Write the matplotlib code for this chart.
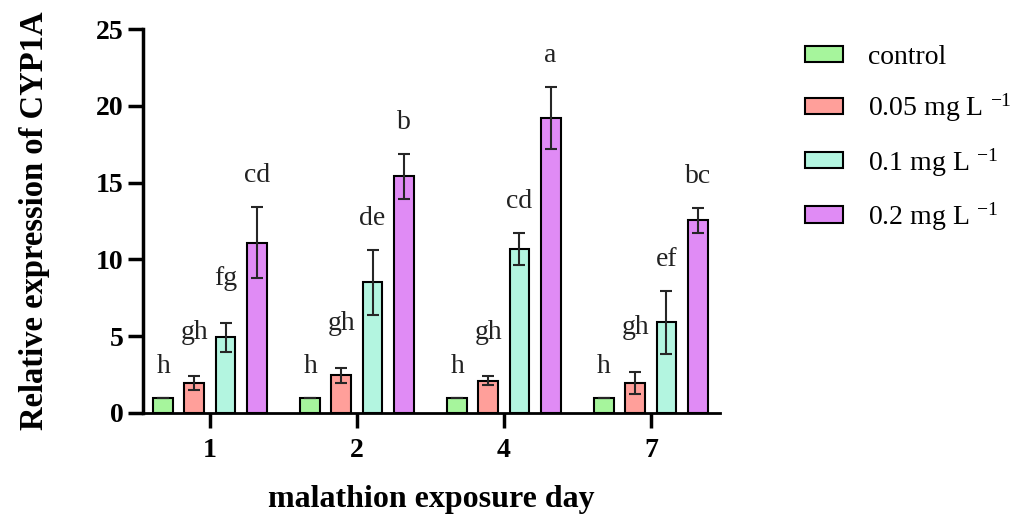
import numpy as np
import matplotlib
matplotlib.use("Agg")
import matplotlib.pyplot as plt

plt.rcParams['font.family'] = ['Liberation Serif', 'DejaVu Serif']
plt.rcParams['mathtext.fontset'] = 'custom'
plt.rcParams['mathtext.rm'] = 'Liberation Serif'
plt.rcParams['mathtext.it'] = 'Liberation Serif:italic'
plt.rcParams['mathtext.bf'] = 'Liberation Serif:bold'

# data
days = ["1", "2", "4", "7"]
groups = ["control", "0.05 mg L $^{-1}$", "0.1 mg L $^{-1}$", "0.2 mg L $^{-1}$"]
means = [
    [1.0, 1.0, 1.0, 1.0],        # control
    [1.95, 2.45, 2.1, 1.97],     # 0.05
    [4.93, 8.5, 10.7, 5.9],      # 0.1
    [11.1, 15.4, 19.2, 12.55],   # 0.2
]
errors = [
    [0.0, 0.0, 0.0, 0.0],
    [0.45, 0.5, 0.3, 0.72],
    [0.93, 2.1, 1.05, 2.05],
    [2.3, 1.45, 2.0, 0.8],
]
letters = [
    ["h", "h", "h", "h"],
    ["gh", "gh", "gh", "gh"],
    ["fg", "de", "cd", "ef"],
    ["cd", "b", "a", "bc"],
]
colors = ["#A6F59C", "#FF9F9A", "#B3F5E0", "#E08BF5"]

fig = plt.figure(figsize=(10.21, 5.14), dpi=100)
ax = fig.add_axes([0.140, 0.1965, 0.565, 0.747])

x = np.arange(len(days))
step = 0.212
width = 0.135
for i, g in enumerate(groups):
    pos = x + (i - 1.5) * step
    ax.bar(pos, means[i], width, color=colors[i], edgecolor="black",
           linewidth=1.5, label=g, zorder=2)
    ax.errorbar(pos, means[i], yerr=errors[i], fmt="none", ecolor="#262626",
                elinewidth=1.5, capsize=4, capthick=1.5, zorder=3)
    for j in range(len(days)):
        top = means[i][j] + errors[i][j]
        # letters with a descender sit a little higher
        off = 27 if "g" in letters[i][j] else 18
        ax.annotate(letters[i][j], (pos[j], top), xytext=(0, off),
                    textcoords="offset points", ha="center", va="baseline",
                    fontsize=20, color="#222222")

ax.set_xlim(-0.456, 3.469)
ax.set_ylim(0, 25)
ax.set_yticks([0, 5, 10, 15, 20, 25])
ax.set_xticks(x)
ax.set_xticklabels(days)
for lab in ax.get_xticklabels() + ax.get_yticklabels():
    lab.set_fontweight("bold")
    lab.set_fontsize(20)

ax.spines["top"].set_visible(False)
ax.spines["right"].set_visible(False)
ax.spines["left"].set_linewidth(2.5)
ax.spines["bottom"].set_linewidth(2.0)
ax.tick_params(axis="y", length=11, width=2.5, direction="out", pad=3)
ax.tick_params(axis="x", length=11, width=2.5, direction="out", pad=7)

ax.set_ylabel("Relative expression of CYP1A", fontsize=23.5, fontweight="bold", labelpad=33)
ax.set_xlabel("malathion exposure day", fontsize=23, fontweight="bold", labelpad=16)

ax.legend(loc="upper left", bbox_to_anchor=(0.788, 0.912), bbox_transform=fig.transFigure,
          frameon=False, fontsize=20, handlelength=1.38, handleheight=0.52,
          labelspacing=0.78, handletextpad=0.9, borderpad=0, borderaxespad=0)

fig.savefig("out.png", dpi=100)
